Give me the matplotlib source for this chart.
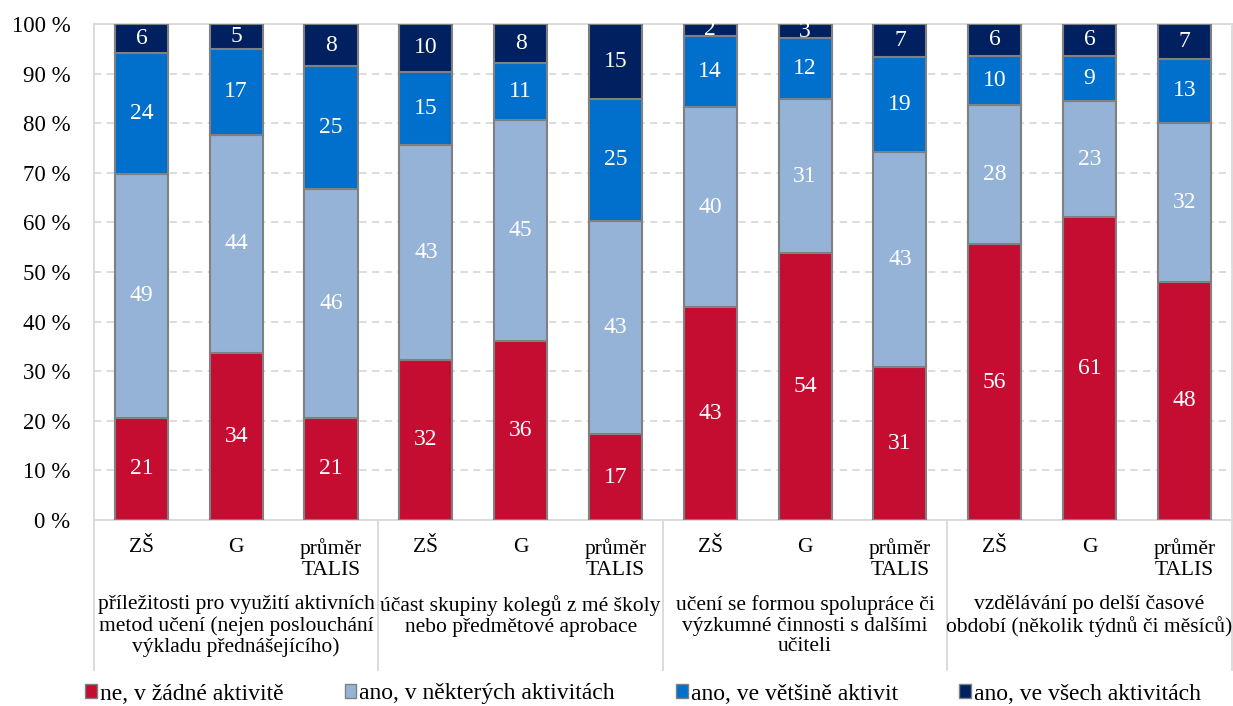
import matplotlib
matplotlib.use("Agg")
import matplotlib.pyplot as plt
from matplotlib.patches import Patch
from matplotlib.lines import Line2D
import matplotlib.transforms as mtransforms
import numpy as np

plt.rcParams['font.family'] = ['Liberation Serif', 'DejaVu Serif']

# ---- data ----
sub_labels = ["ZŠ", "G", "průměr\nTALIS"] * 4
group_labels = [
    "příležitosti pro využití aktivních\nmetod učení (nejen poslouchání\nvýkladu přednášejícího)",
    "účast skupiny kolegů z mé školy\nnebo předmětové aprobace",
    "učení se formou spolupráce či\nvýzkumné činnosti s dalšími\nučiteli",
    "vzdělávání po delší časové\nobdobí (několik týdnů či měsíců)",
]
series_names = ["ne, v žádné aktivitě", "ano, v některých aktivitách",
                "ano, ve většině aktivit", "ano, ve všech aktivitách"]
ne_zadne   = [20.6, 33.7, 20.6, 32.3, 36.1, 17.3, 42.9, 53.8, 30.8, 55.6, 61.0, 48.0]
nektere    = [49.2, 44.0, 46.1, 43.3, 44.6, 43.0, 40.4, 31.1, 43.3, 28.0, 23.4, 32.1]
vetsina    = [24.3, 17.3, 24.8, 14.8, 11.4, 24.6, 14.3, 12.2, 19.3, 10.0,  9.2, 12.8]
vsechny    = [ 5.9,  5.0,  8.5,  9.6,  7.9, 15.1,  2.4,  2.9,  6.6,  6.4,  6.4,  7.1]
colors = ["#C40D31", "#95B3D7", "#0070CC", "#002060"]

series = [ne_zadne, nektere, vetsina, vsechny]

fig = plt.figure(figsize=(12.33, 7.06), dpi=100)
ax = fig.add_axes([94/1233, 1-520/706, (1233-94)/1233 - 0.001, (520-24)/706])

x = np.arange(len(sub_labels))
bottom = np.zeros(len(x))
FS_DATA = 17
FS_TICK = 16.5
FS_CAT = 15.5
FS_LEG = 17
for vals, col in zip(series, colors):
    vals = np.array(vals)
    ax.bar(x, vals, width=0.56, bottom=bottom, color=col, edgecolor="#808080",
           linewidth=1.5, zorder=3)
    for xi, b, v in zip(x, bottom, vals):
        ax.text(xi, b + v/2, f"{int(round(v))}", ha="center", va="center",
                color="white", fontsize=FS_DATA, zorder=4)
    bottom += vals

ax.set_xlim(-0.5, 11.5)
ax.set_ylim(0, 100)
ax.set_yticks(np.arange(0, 101, 10))
ax.set_yticklabels([f"{v} %" for v in range(0, 101, 10)], fontsize=FS_TICK)
ax.tick_params(axis="y", length=0, pad=17)
ax.tick_params(axis="x", length=0)
ax.set_xticks([])
ax.yaxis.grid(True, linestyle=(0, (4, 3)), color="#D9D9D9", linewidth=1.3, zorder=0)
for s in ["left", "top", "right", "bottom"]:
    ax.spines[s].set_color("#D9D9D9")
    ax.spines[s].set_linewidth(1.3)

trans = mtransforms.blended_transform_factory(ax.transData, ax.transAxes)
# sub-category labels
for xi, lab in zip(x, sub_labels):
    ax.text(xi, -18/496, lab, transform=trans, ha="center", va="top",
            fontsize=FS_CAT, linespacing=1.15)
# group labels
for g, lab in enumerate(group_labels):
    ax.text(3*g + 1, -75/496, lab, transform=trans, ha="center", va="top",
            fontsize=FS_CAT, linespacing=1.12)
# separators
for sx in [-0.5, 2.5, 5.5, 8.5, 11.5]:
    ax.add_line(Line2D([sx, sx], [0, -150/496], transform=trans, color="#D9D9D9",
                       linewidth=1.3, clip_on=False))

handles = [Patch(facecolor=c, edgecolor="#808080", linewidth=1.0) for c in colors]
fig.legend(handles, series_names, loc="center", bbox_to_anchor=(643/1233, 1-694/706),
           ncol=4, frameon=False, fontsize=FS_LEG, handlelength=0.5, handleheight=0.5,
           handletextpad=0.12, columnspacing=2.6, borderaxespad=0, borderpad=0)

fig.savefig("out.png", dpi=100)
